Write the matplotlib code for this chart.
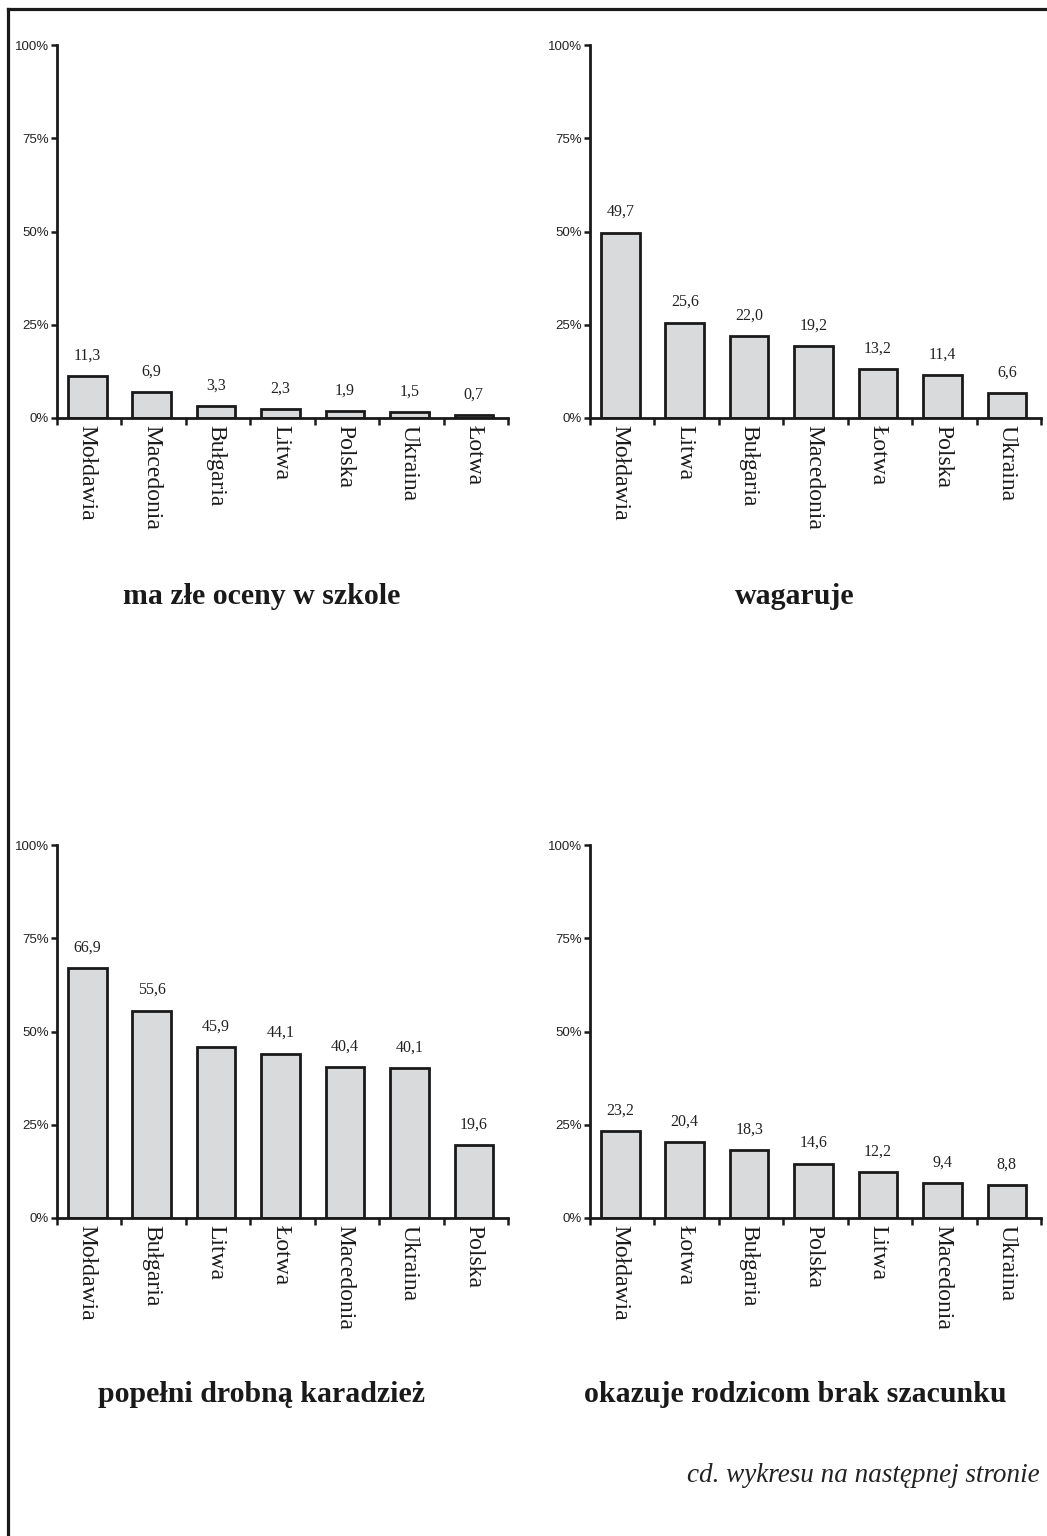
import numpy as np
import matplotlib.pyplot as plt
from matplotlib.lines import Line2D

# data
titles = ["ma złe oceny w szkole", "wagaruje",
          "popełni drobną karadzież", "okazuje rodzicom brak szacunku"]

cats_tl = ["Mołdawia", "Macedonia", "Bułgaria", "Litwa", "Polska", "Ukraina", "Łotwa"]
vals_tl = [11.3, 6.9, 3.3, 2.3, 1.9, 1.5, 0.7]

cats_tr = ["Mołdawia", "Litwa", "Bułgaria", "Macedonia", "Łotwa", "Polska", "Ukraina"]
vals_tr = [49.7, 25.6, 22.0, 19.2, 13.2, 11.4, 6.6]

cats_bl = ["Mołdawia", "Bułgaria", "Litwa", "Łotwa", "Macedonia", "Ukraina", "Polska"]
vals_bl = [66.9, 55.6, 45.9, 44.1, 40.4, 40.1, 19.6]

cats_br = ["Mołdawia", "Łotwa", "Bułgaria", "Polska", "Litwa", "Macedonia", "Ukraina"]
vals_br = [23.2, 20.4, 18.3, 14.6, 12.2, 9.4, 8.8]

yticks = [0, 25, 50, 75, 100]
footer = "cd. wykresu na następnej stronie"

W, H = 1047, 1536
fig = plt.figure(figsize=(W / 100, H / 100), dpi=100)

serif = "Liberation Serif"
sans = "Liberation Sans"
bar_color = "#d9dadc"


def panel(rect, cats, vals, title, title_y):
    ax = fig.add_axes(rect)
    x = np.arange(len(cats)) - 0.03
    ax.bar(x, vals, width=0.6, color=bar_color, edgecolor="#1a1a1a", linewidth=2.0)
    for xi, v in zip(x, vals):
        ax.annotate(f"{v:.1f}".replace(".", ","), (xi, v), xytext=(0, 9),
                    textcoords="offset points", ha="center", va="bottom",
                    fontsize=11.5, family=serif, color="#222222")
    ax.set_xlim(-0.5, len(cats) - 0.5)
    ax.set_ylim(0, 100)
    ax.set_yticks(yticks)
    ax.set_yticklabels([f"{t}%" for t in yticks], family=sans, fontsize=9.5,
                       color="#222222")
    ax.set_xticks(x)
    ax.set_xticklabels(cats, rotation=-90, family=serif, fontsize=17,
                       color="#1a1a1a", va="top", ha="center")
    ax.set_xticks(np.arange(len(cats) + 1) - 0.5, minor=True)
    ax.tick_params(axis="x", which="major", length=0, pad=5)
    ax.tick_params(axis="x", which="minor", length=5, width=1.8, direction="out",
                   color="#1a1a1a")
    ax.tick_params(axis="y", length=4, width=1.8, pad=2, color="#1a1a1a")
    for s in ["top", "right"]:
        ax.spines[s].set_visible(False)
    for s in ["left", "bottom"]:
        ax.spines[s].set_linewidth(2.0)
        ax.spines[s].set_color("#1a1a1a")
    cx = rect[0] + 205 / W
    fig.text(cx, title_y, title, ha="center", va="center", family=serif,
             fontweight="bold", fontsize=21.5, color="#1a1a1a")
    return ax


aw = 451 / W
ah = 373 / H
panel([57 / W, 1 - 418 / H, aw, ah], cats_tl, vals_tl, titles[0], 1 - 597 / H)
panel([590 / W, 1 - 418 / H, aw, ah], cats_tr, vals_tr, titles[1], 1 - 597 / H)
panel([57 / W, 1 - 1218 / H, aw, ah], cats_bl, vals_bl, titles[2], 1 - 1395 / H)
panel([590 / W, 1 - 1218 / H, aw, ah], cats_br, vals_br, titles[3], 1 - 1395 / H)

fig.text(1040 / W, 1 - 1475 / H, footer, ha="right", va="center", family=serif,
         style="italic", fontsize=19.5, color="#222222")

# page frame (left and top edges only)
fig.add_artist(Line2D([8 / W, 8 / W], [0, 1 - 9 / H], transform=fig.transFigure,
                      color="#1a1a1a", linewidth=2.3))
fig.add_artist(Line2D([8 / W, 1], [1 - 9 / H, 1 - 9 / H], transform=fig.transFigure,
                      color="#1a1a1a", linewidth=2.3))

fig.savefig("out.png", dpi=100)
